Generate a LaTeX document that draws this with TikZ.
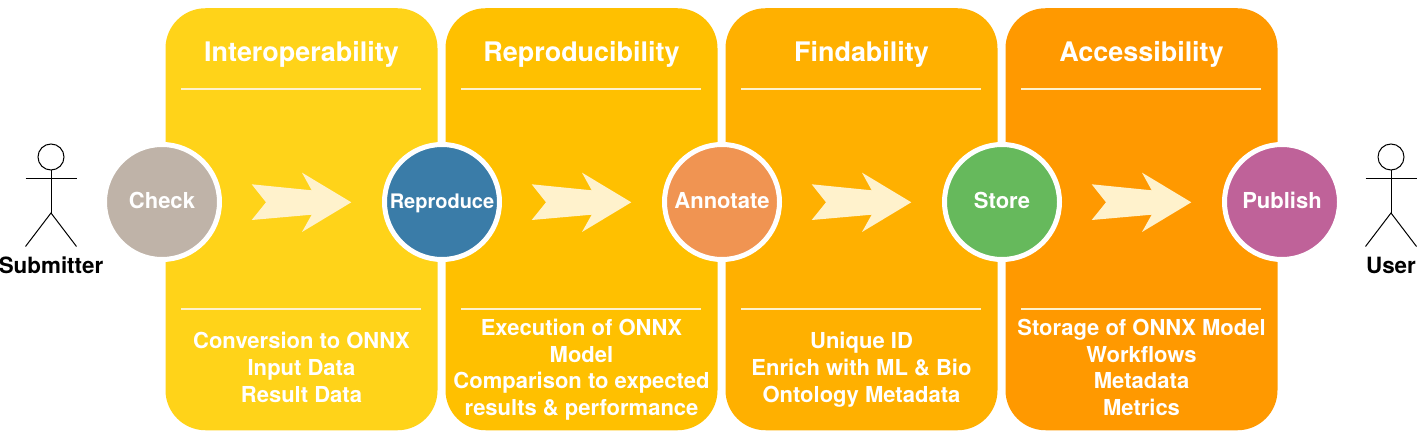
\documentclass[tikz,border=0pt]{standalone}
\usepackage{fontspec}
\setmainfont{TeX Gyre Heros}
\definecolor{boxa}{HTML}{FFD319}
\definecolor{boxb}{HTML}{FFC000}
\definecolor{boxc}{HTML}{FFB000}
\definecolor{boxd}{HTML}{FF9900}
\definecolor{softline}{HTML}{FFF2CC}
\definecolor{circa}{HTML}{BFB3A8}
\definecolor{circb}{HTML}{3A7CA8}
\definecolor{circc}{HTML}{F09452}
\definecolor{circd}{HTML}{66B95C}
\definecolor{circe}{HTML}{BF6299}
\tikzset{
  x=0.75pt,y=-0.75pt,
  panel/.style={rectangle,rounded corners=30pt,minimum width=204pt,minimum height=316.5pt,inner sep=0pt,fill=#1},
  stage/.style={circle,minimum size=86.25pt,inner sep=0pt,fill=#1,draw=white,line width=3.75pt,text=white,text height=11.5pt,text depth=1pt,font=\bfseries\fontsize{16.5pt}{19pt}\selectfont},
  paneltitle/.style={text=white,font=\bfseries\fontsize{20.2pt}{24pt}\selectfont,inner sep=0pt},
  panelbody/.style={text=white,align=center,inner sep=0pt,font=\bfseries\fontsize{16.5pt}{19.9pt}\selectfont},
  rule/.style={draw=softline,line width=1.5pt},
  flow/.style={fill=softline,draw=none},
  actorline/.style={draw=black,line width=0.75pt},
  actorlabel/.style={text=black,inner sep=0pt,font=\bfseries\fontsize{16.8pt}{19pt}\selectfont},
}
\newcommand{\flowarrow}[1]{%
  \fill[flow,shift={(#1,0)}] (251.7,184.3) -- (311.7,190.3) -- (302,172.7) -- (351.3,202.3) -- (302,232) -- (311.7,214.7) -- (251.7,220) -- (266,202.3) -- cycle;}
\newcommand{\actor}[1]{%
  \begin{scope}[shift={(#1,0)}]
    \draw[actorline] (0,157) circle[radius=13];
    \draw[actorline] (0,170) -- (0,213);
    \draw[actorline] (-25.5,178.5) -- (25.5,178.5);
    \draw[actorline] (-25.5,246.5) -- (0,213) -- (25.5,246.5);
  \end{scope}}
\begin{document}
\begin{tikzpicture}
\useasboundingbox (0,0) rectangle (1418,438);
% panels
\node[panel=boxa] (p1) at (301.5,219.25) {};
\node[panel=boxb] (p2) at (581.5,219.25) {};
\node[panel=boxc] (p3) at (861.5,219.25) {};
\node[panel=boxd] (p4) at (1141.5,219.25) {};
% titles
\node[paneltitle] (t1) at (301.5,54.5) {Interoperability};
\node[paneltitle] (t2) at (581.5,54.5) {Reproducibility};
\node[paneltitle] (t3) at (861.5,54.5) {Findability};
\node[paneltitle] (t4) at (1141.5,54.5) {Accessibility};
% rules
\foreach \c in {301,581,861,1141}{
  \draw[rule] (\c-120,89.5) -- (\c+120,89.5);
  \draw[rule] (\c-120,309.5) -- (\c+120,309.5);
}
% bodies
\node[panelbody] (b1) at (301.5,370.2) {\strut Conversion to ONNX\\Input Data\\Result Data\strut};
\node[panelbody] (b2) at (581.5,370.2) {\strut Execution of ONNX\\Model\\Comparison to expected\\results \& performance\strut};
\node[panelbody] (b3) at (861.5,370.2) {\strut Unique ID\\Enrich with ML \& Bio\\Ontology Metadata\strut};
\node[panelbody] (b4) at (1141.5,370.2) {\strut Storage of ONNX Model\\Workflows\\Metadata\\Metrics\strut};
% arrows
\flowarrow{0}
\flowarrow{280}
\flowarrow{560}
\flowarrow{840}
% stages
\node[stage=circa] (s1) at (162,202) {Check};
\node[stage=circb,text height=11pt,text depth=1.5pt,font=\bfseries\fontsize{15pt}{18pt}\selectfont] (s2) at (442,202) {Reproduce};
\node[stage=circc] (s3) at (722,202) {Annotate};
\node[stage=circd] (s4) at (1002,202) {Store};
\node[stage=circe] (s5) at (1282,202) {Publish};
% actors
\actor{51}
\actor{1391}
\node[actorlabel] (a1) at (51,265) {Submitter};
\node[actorlabel] (a2) at (1391,265) {User};
\end{tikzpicture}
\end{document}
